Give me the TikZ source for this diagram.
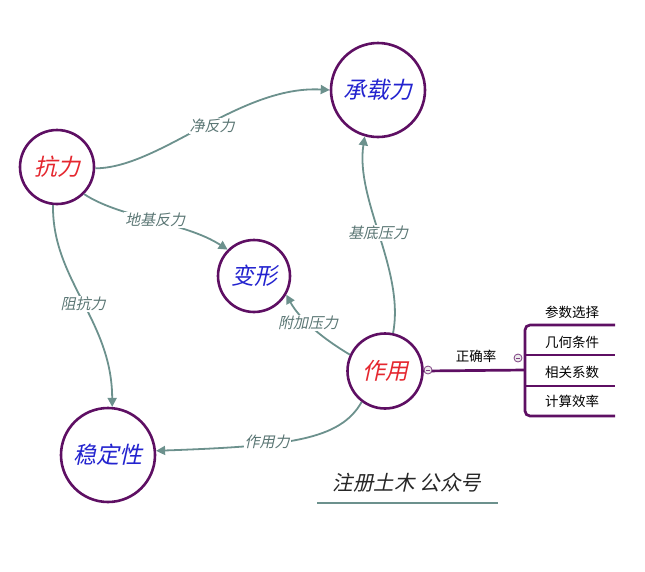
\documentclass[tikz,border=0pt]{standalone}
\usepackage{fontspec}
\usetikzlibrary{arrows.meta}
\newfontfamily\cjk{Noto Sans CJK SC}
\newfontfamily\cjkit[FakeSlant=0.22]{Noto Sans CJK SC}
\definecolor{ringpurple}{HTML}{5E0F63}
\definecolor{linkteal}{HTML}{6C918D}
\definecolor{lbltext}{HTML}{5A7674}
\definecolor{redtxt}{HTML}{E5272F}
\definecolor{bluetxt}{HTML}{2323CF}
\tikzset{
  concept/.style={circle, draw=ringpurple, line width=2.6pt, fill=white, inner sep=0pt},
  link/.style={draw=linkteal, line width=1.8pt, -{Triangle[length=9pt,width=9pt]}},
  lbl/.style={fill=white, text=lbltext, inner sep=1pt, font=\cjkit\fontsize{15}{15}\selectfont},
  bigred/.style={text=redtxt, font=\cjkit\fontsize{23}{23}\selectfont},
  bigblue/.style={text=bluetxt, font=\cjkit\fontsize{23}{23}\selectfont},
  branchtxt/.style={text=black, font=\cjk\fontsize{13.5}{13.5}\selectfont},
  bracket/.style={draw=ringpurple, line width=2.7pt},
  toggle/.style={circle, draw=ringpurple!80, fill=gray!15, line width=0.8pt, minimum size=8pt, inner sep=0pt,
    path picture={\draw[ringpurple!80, line width=0.8pt] ([xshift=-2.2pt]path picture bounding box.center) -- ([xshift=2.2pt]path picture bounding box.center);}},
}
\begin{document}
\begin{tikzpicture}[x=1pt,y=-1pt]
\useasboundingbox (0,0) rectangle (645,571);
% concepts
\node[concept, minimum size=74pt, bigred] (k) at (57,167) {抗力};
\node[concept, minimum size=94pt, bigblue] (c) at (378,90) {承载力};
\node[concept, minimum size=72pt, bigblue] (b) at (254,276) {变形};
\node[concept, minimum size=75pt, bigred] (z) at (385,371) {作用};
\node[concept, minimum size=94pt, bigblue] (w) at (108,455) {稳定性};
% connectors
\draw[link] (k.-2) .. controls (160,168) and (240,85) .. (c.180);
\draw[link] (k.-45) .. controls (120,218) and (185,222) .. (b.135);
\draw[link] (k.-96) .. controls (52,280) and (112,320) .. (w.85);
\draw[link] (z.78) .. controls (405,270) and (355,200) .. (c.-106);
\draw[link] (z.155) .. controls (325,340) and (300,320) .. (b.-30);
\draw[link] (z.-127) .. controls (340,440) and (290,446) .. (w.5);
% connector labels
\node[lbl] (l1) at (212,126) {净反力};
\node[lbl] (l2) at (155,220) {地基反力};
\node[lbl] (l3) at (83,304) {阻抗力};
\node[lbl] (l4) at (378,233) {基底压力};
\node[lbl] (l5) at (308,323) {附加压力};
\node[lbl] (l6) at (267,442) {作用力};
% branch
\coordinate (bj) at (525,370);
\draw[bracket] (z.east) -- (bj);
\draw[bracket, rounded corners=5pt] (615,325) -- (525,325) -- (525,416) -- (615,416);
\draw[bracket] (525,355) -- (615,355);
\draw[bracket] (525,386) -- (615,386);
\node[toggle] (t1) at (428,370) {};
\node[toggle] (t2) at (518,358) {};
\node[branchtxt] (r0) at (476,356) {正确率};
\node[branchtxt] (r1) at (572,312) {参数选择};
\node[branchtxt] (r2) at (572,342) {几何条件};
\node[branchtxt] (r3) at (572,372) {相关系数};
\node[branchtxt] (r4) at (572,401) {计算效率};
% watermark
\node[text=black!85, font=\cjkit\fontsize{20.5}{20.5}\selectfont] (wm) at (407,483) {注册土木 公众号};
\draw[draw=linkteal, line width=2.6pt] (317,503) -- (498,503);
\end{tikzpicture}
\end{document}
